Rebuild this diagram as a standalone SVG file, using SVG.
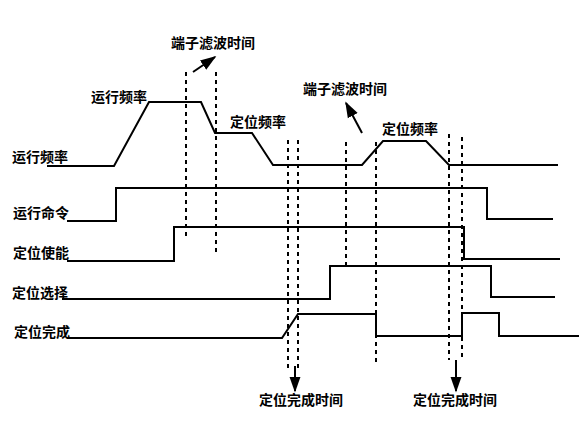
<svg xmlns="http://www.w3.org/2000/svg" width="588" height="425" viewBox="0 0 588 425">
<style>
.sig{fill:none;stroke:#000;stroke-width:2;stroke-linejoin:miter}
.dot{fill:none;stroke:#000;stroke-width:2;stroke-dasharray:4 4}
.arr{fill:none;stroke:#000;stroke-width:2}
text{font-family:"Noto Sans CJK SC","Noto Sans",sans-serif;font-size:14px;font-weight:bold;fill:#000}
</style>
<defs>
<marker id="ah" viewBox="0 0 10 10" refX="9" refY="5" markerWidth="8" markerHeight="8" markerUnits="strokeWidth" orient="auto">
<path d="M0,1.5 L10,5 L0,8.5 Z" fill="#000"/>
</marker>
</defs>
<rect width="588" height="425" fill="#fff"/>
<g id="connectors">
<line class="dot" x1="186" y1="72" x2="186" y2="240"/>
<line class="dot" x1="216" y1="72" x2="216" y2="256"/>
<line class="dot" x1="288" y1="140" x2="288" y2="370"/>
<line class="dot" x1="298" y1="140" x2="298" y2="370"/>
<line class="dot" x1="346" y1="142" x2="346" y2="270"/>
<line class="dot" x1="376" y1="142" x2="376" y2="366"/>
<line class="dot" x1="449" y1="134" x2="449" y2="360"/>
<line class="dot" x1="462" y1="137" x2="462" y2="360"/>
<line class="arr" x1="193" y1="72" x2="215" y2="57" marker-end="url(#ah)"/>
<line class="arr" x1="362" y1="133" x2="346" y2="103" marker-end="url(#ah)"/>
<line class="arr" x1="295" y1="366" x2="295" y2="391" marker-end="url(#ah)"/>
<line class="arr" x1="456" y1="360" x2="456" y2="391" marker-end="url(#ah)"/>
</g>
<g id="freq">
<polyline class="sig" points="47,166 114,166 149,102 201,102 215,133 252,133 273,165 362,165 383,141 426,141 449,165 558,165"/>
</g>
<g id="run-cmd">
<polyline class="sig" points="67,221 116,221 116,188 487,188 487,219 553,219"/>
</g>
<g id="pos-enable">
<polyline class="sig" points="67,261 174,261 174,227 464,227 464,259 560,259"/>
</g>
<g id="pos-select">
<polyline class="sig" points="62,299 330,299 330,266 491,266 491,297 555,297"/>
</g>
<g id="pos-done">
<polyline class="sig" points="67,338 282,338 298,314 376,314 376,336 462,336 462,313 499,313 499,336 579,336"/>
</g>
<g id="labels">
<text x="171" y="48">端子滤波时间</text>
<text x="91" y="102">运行频率</text>
<text x="230" y="127">定位频率</text>
<text x="303" y="94">端子滤波时间</text>
<text x="382" y="134">定位频率</text>
<text x="12" y="162">运行频率</text>
<text x="13" y="218">运行命令</text>
<text x="13" y="258">定位使能</text>
<text x="12" y="298">定位选择</text>
<text x="14" y="337">定位完成</text>
<text x="259" y="405">定位完成时间</text>
<text x="413" y="405">定位完成时间</text>
</g>
</svg>
